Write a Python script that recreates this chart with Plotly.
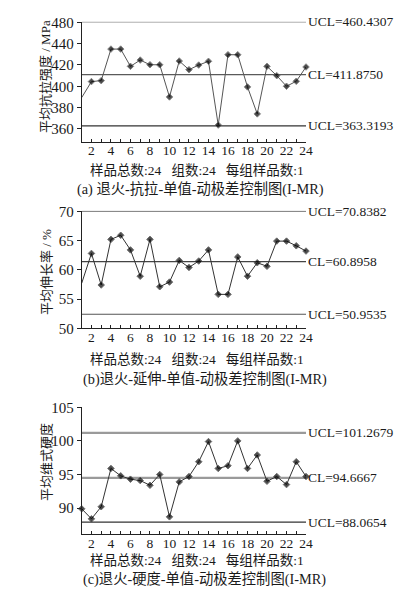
import plotly.graph_objects as go

sample_no = list(range(1, 25))

# 平均值
tensile = [389.4, 404.4, 405.3, 434.9, 434.9, 418.7, 424.6, 420.2, 420.2, 390.0,
           423.7, 415.6, 419.9, 423.4, 363.6, 429.6, 429.6, 399.4, 374.1, 418.7,
           410.0, 400.0, 404.7, 418.1]
elong = [57.7, 62.8, 57.4, 65.2, 65.9, 63.4, 58.9, 65.2, 57.1, 57.9,
         61.6, 60.4, 61.5, 63.4, 55.8, 55.8, 62.2, 58.9, 61.2, 60.6,
         64.9, 64.9, 64.1, 63.2]
hardness = [89.9, 88.4, 90.2, 95.9, 94.8, 94.3, 94.1, 93.4, 95.0, 88.7,
            93.9, 94.7, 96.9, 99.9, 95.9, 96.3, 100.0, 95.9, 97.9, 94.0,
            94.7, 93.5, 96.9, 94.7]

# where the control lines sit on the plots (upper, centre, lower) and their labels
tensile_lines = [460.43, 410.9, 362.9]
elong_lines = [70.0, 61.4, 52.4]
hard_lines = [101.2, 94.5, 87.9]
tensile_lbl = ["UCL=460.4307", "CL=411.8750", "UCL=363.3193"]
elong_lbl = ["UCL=70.8382", "CL=60.8958", "UCL=50.9535"]
hard_lbl = ["UCL=101.2679", "CL=94.6667", "UCL=88.0654"]

tensile_ticks = [360, 380, 400, 420, 440, 460]
tensile_ticktext = ["360", "380", "400", "420", "440", "480"]
elong_ticks = [50, 55, 60, 65, 70]
hard_ticks = [90, 95, 100, 105]

y_titles = ["平均抗拉强度 / MPa", "平均伸长率 / %", "平均维式硬度"]
info = "样品总数:24\u00a0\u00a0\u00a0组数:24\u00a0\u00a0\u00a0每组样品数:1"
captions = ["(a) 退火-抗拉-单值-动极差控制图(I-MR)",
            "(b)退火-延伸-单值-动极差控制图(I-MR)",
            "(c)退火-硬度-单值-动极差控制图(I-MR)"]

W, H = 419, 591
FONT = "Liberation Serif, Noto Sans CJK SC, serif"
TXT = "#1a1a1a"


def py(px):
    return 1 - px / H


panels = [
    dict(y=tensile, lines=tensile_lines, lbl=tensile_lbl, top=21.7, bot=141.7,
         rng=[348, 460.6], tv=tensile_ticks, tt=tensile_ticktext, first_mark=False,
         lcol=["#8a8a8a", "#5a5a5a", "#333333"], lw=[1.4, 1.2, 1.2],
         dcol="#555555", title_y=77, info_y=170.7, cap_y=190, cap_x=200),
    dict(y=elong, lines=elong_lines, lbl=elong_lbl, top=210.7, bot=328.3,
         rng=[50, 70.1], tv=elong_ticks, tt=[str(v) for v in elong_ticks], first_mark=False,
         lcol=["#8a8a8a", "#444444", "#555555"], lw=[1.4, 1.2, 1.2],
         dcol="#333333", title_y=272, info_y=359.5, cap_y=379, cap_x=205),
    dict(y=hardness, lines=hard_lines, lbl=hard_lbl, top=407.3, bot=534.3,
         rng=[86.1, 105], tv=hard_ticks, tt=[str(v) for v in hard_ticks], first_mark=True,
         lcol=["#9a9a9a", "#9a9a9a", "#333333"], lw=[2.2, 2.2, 1.2],
         dcol="#333333", title_y=462, info_y=560.7, cap_y=579.3, cap_x=204.5),
]

fig = go.Figure()
annots = []
x_dom = [81.7 / W, 306.0 / W]
even_ticktext = [str(n) if n % 2 == 0 else "" for n in sample_no]

for i, p in enumerate(panels):
    k = "" if i == 0 else str(i + 1)
    xa, ya = "x" + k, "y" + k

    for lev, col, w in zip(p["lines"], p["lcol"], p["lw"]):
        fig.add_trace(go.Scatter(x=[sample_no[0], sample_no[-1]], y=[lev, lev], mode="lines",
                                 line=dict(color=col, width=w), xaxis=xa, yaxis=ya,
                                 hoverinfo="skip", showlegend=False))

    sizes = [5] * len(sample_no)
    if not p["first_mark"]:
        sizes[0] = 0
    fig.add_trace(go.Scatter(x=sample_no, y=p["y"], mode="lines+markers",
                             line=dict(color=p["dcol"], width=1),
                             marker=dict(symbol="diamond", size=sizes, color="#000000"),
                             xaxis=xa, yaxis=ya, showlegend=False, cliponaxis=False))

    for lev, t in zip(p["lines"], p["lbl"]):
        annots.append(dict(x=sample_no[-1], y=lev, xref=xa, yref=ya, text=t,
                           xanchor="left", yanchor="middle", showarrow=False, xshift=0,
                           font=dict(family=FONT, size=13.5, color=TXT)))

    annots.append(dict(x=46 / W, y=py(p["title_y"]), xref="paper", yref="paper",
                       text=y_titles[i], textangle=-90, showarrow=False,
                       xanchor="center", yanchor="middle",
                       font=dict(family=FONT, size=13, color=TXT)))
    annots.append(dict(x=197 / W, y=py(p["info_y"]), xref="paper", yref="paper",
                       text=info, showarrow=False, xanchor="center", yanchor="middle",
                       font=dict(family=FONT, size=13.5, color=TXT)))
    annots.append(dict(x=p["cap_x"] / W, y=py(p["cap_y"]), xref="paper", yref="paper",
                       text=captions[i], showarrow=False, xanchor="center", yanchor="middle",
                       font=dict(family=FONT, size=14.3, color=TXT)))

    fig.layout["xaxis" + k] = dict(
        domain=x_dom, anchor=ya, range=[1, 24], tickvals=sample_no, ticktext=even_ticktext,
        ticks="inside", ticklen=3, tickcolor="#222", showline=True, linecolor="#222",
        linewidth=1, showgrid=False, zeroline=False, automargin=False,
        ticklabelstandoff=-4, tickfont=dict(family=FONT, size=13.5, color=TXT))
    fig.layout["yaxis" + k] = dict(
        domain=[py(p["bot"]), py(p["top"])], anchor=xa, range=p["rng"],
        tickvals=p["tv"], ticktext=p["tt"], ticks="outside", ticklen=4, tickcolor="#222",
        showline=True, linecolor="#222", linewidth=1, showgrid=False, zeroline=False,
        automargin=False, tickfont=dict(family=FONT, size=15, color=TXT))

fig.update_layout(template="none", width=W, height=H, margin=dict(l=0, r=0, t=0, b=0),
                  paper_bgcolor="white", plot_bgcolor="white",
                  annotations=annots, showlegend=False)

# the page's default 8px body margin would push the whole figure down and right
fig.write_html("out.html", config={"displayModeBar": False},
               post_script="document.body.style.margin='0';")
